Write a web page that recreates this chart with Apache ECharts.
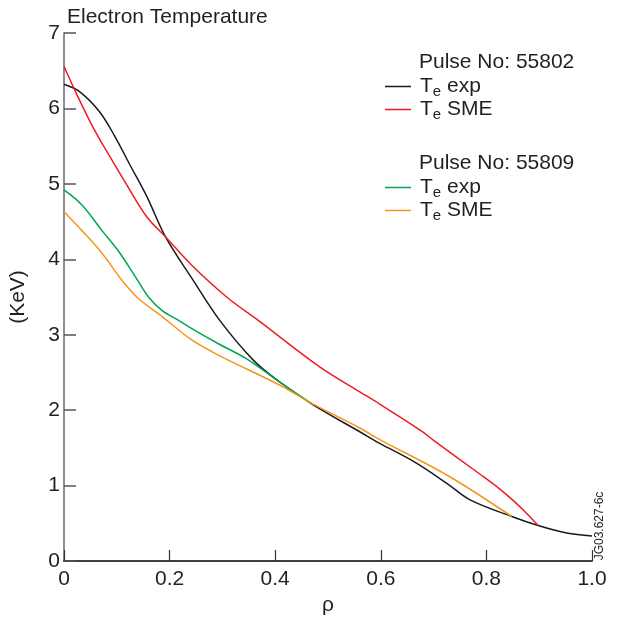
<!DOCTYPE html>
<html>
<head>
<meta charset="utf-8">
<script src="https://cdn.jsdelivr.net/npm/echarts@6/dist/echarts.min.js"></script>
<style>html,body{margin:0;padding:0;background:#fff;}#c{width:619px;height:617px;}</style>
</head>
<body>
<div id="c"></div>
<script>
// ---- data ----
var xTicks = [0, 0.2, 0.4, 0.6, 0.8, 1.0];
var yTicks = [0, 1, 2, 3, 4, 5, 6, 7];

var rho55802exp = [0, 0.03, 0.068, 0.097, 0.125, 0.157, 0.192, 0.242, 0.295, 0.359, 0.409, 0.472, 0.561, 0.598, 0.662, 0.725, 0.769, 0.848, 0.898, 0.952, 1.0];
var te55802exp  = [6.32, 6.22, 5.95, 5.62, 5.25, 4.83, 4.30, 3.75, 3.19, 2.66, 2.37, 2.07, 1.71, 1.56, 1.32, 1.03, 0.81, 0.59, 0.47, 0.37, 0.33];

var rho55802sme = [0, 0.024, 0.055, 0.087, 0.116, 0.157, 0.192, 0.242, 0.308, 0.368, 0.485, 0.561, 0.598, 0.680, 0.700, 0.788, 0.826, 0.851, 0.875, 0.898];
var te55802sme  = [6.56, 6.19, 5.75, 5.36, 5.02, 4.56, 4.30, 3.92, 3.50, 3.19, 2.57, 2.24, 2.08, 1.71, 1.60, 1.15, 0.95, 0.80, 0.64, 0.47];

var rho55809exp = [0, 0.034, 0.072, 0.104, 0.135, 0.160, 0.186, 0.217, 0.242, 0.295, 0.346, 0.409, 0.472];
var te55809exp  = [4.92, 4.72, 4.38, 4.10, 3.77, 3.50, 3.32, 3.19, 3.08, 2.87, 2.68, 2.37, 2.07];

var rho55809sme = [0, 0.034, 0.072, 0.110, 0.141, 0.186, 0.242, 0.295, 0.409, 0.472, 0.561, 0.598, 0.725, 0.848];
var te55809sme  = [4.63, 4.38, 4.08, 3.72, 3.48, 3.24, 2.93, 2.72, 2.33, 2.08, 1.76, 1.61, 1.14, 0.59];

var seriesNames = ['55802 exp', '55802 SME', '55809 exp', '55809 SME'];
var legendLabels = {'55802 exp': 'exp', '55802 SME': 'SME', '55809 exp': 'exp', '55809 SME': 'SME'};
var colors = ['#1a1a1a', '#ed1c24', '#00a651', '#f7941d'];

function pairs(xs, ys) { return xs.map(function (x, i) { return [x, ys[i]]; }); }

var FONT = 'Liberation Sans';
var TXT = '#231f20';
var FS = 21;

var rich = {
  g: {width: 4, lineHeight: 25},
  t: {fontSize: FS, fontFamily: FONT, color: TXT, lineHeight: 25},
  s: {fontSize: 15, fontFamily: FONT, color: TXT, lineHeight: 15, verticalAlign: 'bottom'}
};
function legendFmt(name) { return '{g|}{t|T}{s|e}{t| ' + legendLabels[name] + '}'; }

var chart = echarts.init(document.getElementById('c'), null, {renderer: 'canvas'});
var allData = [pairs(rho55802exp, te55802exp), pairs(rho55802sme, te55802sme), pairs(rho55809exp, te55809exp), pairs(rho55809sme, te55809sme)];

chart.setOption({
  animation: false,
  title: [
    {text: 'Electron Temperature', left: 67, top: 7, padding: 0, textStyle: {fontSize: FS, fontWeight: 'normal', color: TXT, fontFamily: FONT}},
    {text: 'Pulse No: 55802', left: 419, top: 52, padding: 0, textStyle: {fontSize: FS, fontWeight: 'normal', color: TXT, fontFamily: FONT}},
    {text: 'Pulse No: 55809', left: 419, top: 153, padding: 0, textStyle: {fontSize: FS, fontWeight: 'normal', color: TXT, fontFamily: FONT}}
  ],
  legend: [
    {data: seriesNames.slice(0, 2), orient: 'vertical', left: 385, top: 76, padding: 0, itemGap: 0, itemWidth: 26, itemHeight: 1.5, icon: 'rect',
     formatter: legendFmt, textStyle: {rich: rich}},
    {data: seriesNames.slice(2, 4), orient: 'vertical', left: 385, top: 177, padding: 0, itemGap: 0, itemWidth: 26, itemHeight: 1.5, icon: 'rect',
     formatter: legendFmt, textStyle: {rich: rich}}
  ],
  grid: {left: 64, right: 27, top: 33, bottom: 56, containLabel: false, outerBoundsMode: 'none'},
  xAxis: [
    {type: 'value', min: 0, max: 1, interval: 0.2, position: 'bottom',
     name: 'ρ', nameLocation: 'middle', nameGap: 33, nameTextStyle: {fontSize: FS, color: TXT, fontFamily: FONT},
     axisLine: {lineStyle: {color: '#444', width: 1.5}},
     axisTick: {inside: true, length: 11, lineStyle: {color: '#333', width: 1.2}},
     axisLabel: {margin: 8, fontSize: FS, color: TXT, fontFamily: FONT,
       formatter: function (v) { return v === 0 ? '0' : v.toFixed(1); }},
     splitLine: {show: false}},
    {type: 'value', min: 0, max: 1, position: 'top',
     axisLine: {show: true, lineStyle: {color: '#333', width: 1.5}},
     axisTick: {show: false}, axisLabel: {show: false}, splitLine: {show: false}}
  ],
  yAxis: [
    {type: 'value', min: 0, max: 7, interval: 1, position: 'left',
     name: '(KeV)', nameLocation: 'middle', nameGap: 35, nameTextStyle: {fontSize: FS, color: TXT, fontFamily: FONT},
     axisLine: {show: true, lineStyle: {color: '#888', width: 1.5}},
     axisTick: {inside: true, length: 12, lineStyle: {color: '#555', width: 1.5}},
     axisLabel: {margin: 4, fontSize: FS, color: TXT, fontFamily: FONT},
     splitLine: {show: false}},
    {type: 'value', min: 0, max: 7, position: 'right',
     axisLine: {show: true, lineStyle: {color: '#888', width: 1.5}},
     axisTick: {show: false}, axisLabel: {show: false}, splitLine: {show: false}}
  ],
  graphic: [
    {type: 'text', x: 600, y: 526, rotation: Math.PI / 2,
     style: {text: 'JG03.627-6c', fontSize: 12, fontFamily: FONT, fill: TXT, align: 'center', verticalAlign: 'middle'}}
  ],
  series: seriesNames.map(function (n, i) {
    return {name: n, type: 'line', data: allData[i], smooth: 0.35, showSymbol: false,
      lineStyle: {color: colors[i], width: 1.5}, itemStyle: {color: colors[i]}};
  })
});
</script>
</body>
</html>
